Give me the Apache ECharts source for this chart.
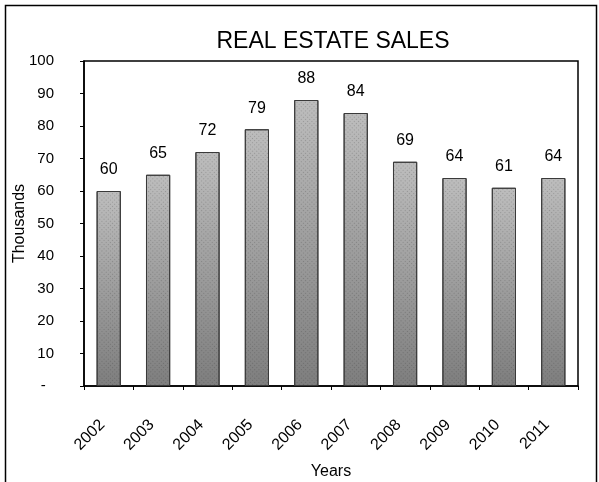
<!DOCTYPE html>
<html>
<head>
<meta charset="utf-8">
<script src="https://cdn.jsdelivr.net/npm/echarts@6/dist/echarts.min.js"></script>
<style>
  html, body { margin: 0; padding: 0; background: #fff; }
  #chart { width: 599px; height: 482px; }
</style>
</head>
<body>
<div id="chart"></div>
<script>
// Annual real estate sales, in thousands
const years = ['2002', '2003', '2004', '2005', '2006', '2007', '2008', '2009', '2010', '2011'];
const sales = [60, 65, 72, 79, 88, 84, 69, 64, 61, 64];
const yTicks = [0, 10, 20, 30, 40, 50, 60, 70, 80, 90, 100];

const FONT = 'Liberation Sans, Arial, sans-serif';
const chart = echarts.init(document.getElementById('chart'), null, { renderer: 'canvas' });

chart.setOption({
  animation: false,
  backgroundColor: '#fff',
  title: {
    text: 'REAL ESTATE SALES',
    left: 328,
    textAlign: 'center',
    top: 25,
    textStyle: { fontFamily: FONT, fontSize: 23, fontWeight: 'normal', color: '#000' }
  },
  graphic: [{
    type: 'rect',
    shape: { x: 5.5, y: 5.5, width: 591, height: 490 },
    style: { fill: 'none', stroke: '#000', lineWidth: 1.5 },
    silent: true
  }],
  grid: {
    left: 84, right: 21, top: 61, bottom: 96,
    outerBoundsMode: 'none',
    containLabel: false,
    show: true, borderColor: '#000', borderWidth: 1.5
  },
  xAxis: {
    type: 'category',
    data: years,
    name: 'Years',
    nameLocation: 'middle',
    nameGap: 78,
    nameMoveOverlap: false,
    nameTextStyle: { fontFamily: FONT, fontSize: 16, color: '#000' },
    axisLine: { lineStyle: { color: '#000', width: 1.5 } },
    axisTick: { show: true, length: 4, lineStyle: { color: '#000' } },
    axisLabel: {
      rotate: 45, fontFamily: FONT, fontSize: 16, color: '#000', margin: 30,
      padding: [0, 9, 0, 0]
    }
  },
  yAxis: {
    type: 'value',
    min: 0,
    max: 100,
    interval: 10,
    name: 'Thousands',
    nameLocation: 'middle',
    nameGap: 56,
    nameMoveOverlap: false,
    nameTextStyle: { fontFamily: FONT, fontSize: 16, color: '#000' },
    splitLine: { show: false },
    axisLine: { show: true, lineStyle: { color: '#000', width: 1.5 } },
    axisTick: { show: true, length: 4, lineStyle: { color: '#000' } },
    axisLabel: {
      fontFamily: FONT, fontSize: 15, color: '#000', margin: 30,
      formatter: v => (yTicks.includes(v) ? (v === 0 ? '-  ' : String(v)) : '')
    }
  },
  series: [{
    type: 'bar',
    data: sales,
    barWidth: '49%',
    itemStyle: {
      color: new echarts.graphic.LinearGradient(0, 0, 0, 1, [
        { offset: 0, color: '#bdbdbd' },
        { offset: 1, color: '#7e7e7e' }
      ]),
      borderColor: '#3a3a3a',
      borderWidth: 1,
      decal: {
        symbol: 'rect',
        symbolSize: 1,
        color: 'rgba(30,30,30,0.22)',
        dashArrayX: [1, 2],
        dashArrayY: [1, 2],
        rotation: 0.785
      }
    },
    label: {
      show: true,
      position: 'top',
      distance: 13,
      fontFamily: FONT,
      fontSize: 16,
      color: '#000'
    }
  }]
});
</script>
</body>
</html>
